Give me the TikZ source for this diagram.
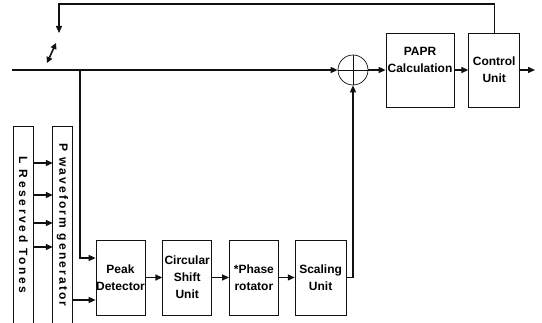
\documentclass[tikz,border=0pt]{standalone}
\usepackage{fontspec}
\setmainfont{Liberation Sans}
\newfontfamily\spacedfont[LetterSpace=18]{Liberation Sans}
\usepackage{tikz}
\usetikzlibrary{arrows.meta,positioning}
\definecolor{tiInk}{HTML}{111111}
\tikzset{
  block/.style={
    rectangle,
    draw=tiInk,
    line width=0.7pt,
    align=center,
    inner sep=0pt,
    font=\fontsize{12}{17}\selectfont\bfseries,
    minimum height=75pt,
    minimum width=49pt
  },
  tallbox/.style={
    rectangle,
    inner sep=0pt,
    minimum width=19pt,
    minimum height=196pt,
    font=\spacedfont\fontsize{12}{14}\selectfont\bfseries
  },
  sumnode/.style={circle, draw=tiInk, line width=0.7pt, minimum size=30pt, inner sep=0pt},
  thinline/.style={line width=0.7pt, draw=tiInk},
  wire/.style={line width=1.4pt, draw=tiInk},
  arrow/.style={-{Triangle[length=7pt,width=6pt]}, line width=1.4pt, draw=tiInk},
  dblarrow/.style={{Triangle[length=6pt,width=6pt]}-{Triangle[length=6pt,width=6pt]}, line width=1.6pt, draw=tiInk}
}

\begin{document}
\begin{tikzpicture}[x=1pt, y=1pt, node distance=17pt]
  \useasboundingbox (0,0) rectangle (542,323);
  % upper path
  \node[sumnode] (sum) at (353,253) {};
  \draw[thinline] (sum.north) -- (sum.south) (sum.west) -- (sum.east);
  \node[block, minimum width=68pt, minimum height=74pt] (papr) at (420,253) {PAPR\\Calculation\\[4pt]};
  \node[block, minimum width=51pt, minimum height=74pt, right=14pt of papr] (ctrl) {Control\\Unit};
  % lower chain
  \node[block] (peak) at (120.5,45.5) {Peak\\Detector};
  \node[block, right=of peak] (shift) {Circular\\Shift\\Unit};
  \node[block, right=of shift] (phase) {*Phase\\rotator};
  \node[block, minimum width=51pt, right=16pt of phase] (scale) {Scaling\\Unit};
  % tone sources
  \node[tallbox] (tones) at (23.5,98) {\rotatebox{-90}{\addfontfeatures{LetterSpace=22}L Reserved Tones}};
  \node[tallbox] (pgen) at (62.5,98) {\rotatebox{-90}{P waveform generator}};
  \draw[thinline] (tones.south west) -- (tones.north west) -- (tones.north east) -- (tones.south east);
  \draw[thinline] (pgen.south west) -- (pgen.north west) -- (pgen.north east) -- (pgen.south east);
  % free ends
  \coordinate (src) at (12,253);
  \coordinate (tap) at (80,253);
  \coordinate (fbtop) at (59,319);
  \coordinate (fbend) at (59,290);
  \coordinate (out) at (535,253);
  \coordinate (adjA) at (47,260);
  \coordinate (adjB) at (56,280);
  \path ([yshift=19.5pt]peak.west) coordinate (pinA);
  \path ([yshift=-22.5pt]peak.west) coordinate (pinB);
  % connectors
  \draw[wire] (src) -- (tap);
  \draw[arrow] (tap) -- (sum.west);
  \draw[arrow] (tap) |- (pinA);
  \draw[arrow] (pgen.east |- pinB) -- (pinB);
  \foreach \y in {160,128,100,76}
    \draw[arrow] (tones.east |- 0,\y) -- (pgen.west |- 0,\y);
  \draw[arrow] (peak) -- (shift);
  \draw[arrow] (shift) -- (phase);
  \draw[arrow] (phase) -- (scale);
  \draw[arrow] (scale.east) -| (sum.south);
  \draw[arrow] (sum.east) -- (papr.west);
  \draw[arrow] (papr) -- (ctrl);
  \draw[arrow] (ctrl) -- (out);
  \draw[arrow] (ctrl.north) |- (fbtop) -- (fbend);
  \draw[dblarrow] (adjA) -- (adjB);
\end{tikzpicture}
\end{document}
